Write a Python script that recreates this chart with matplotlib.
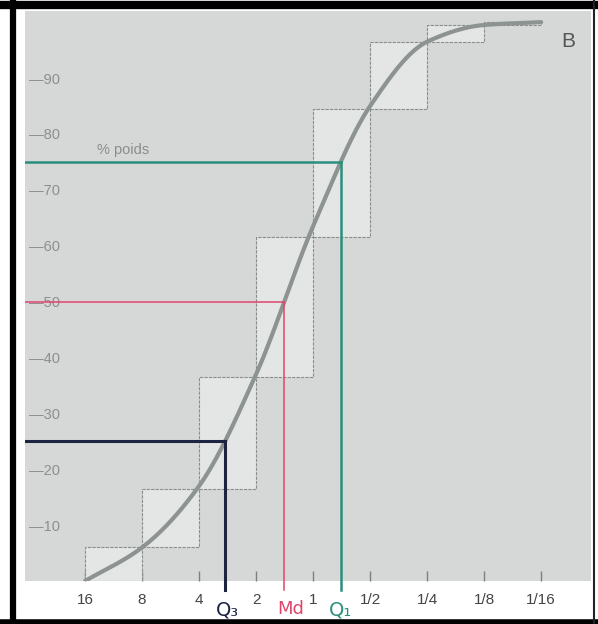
import numpy as np
import matplotlib
matplotlib.use("Agg")
import matplotlib.pyplot as plt
from matplotlib.lines import Line2D
import matplotlib.transforms as mtransforms

plt.rcParams['font.family'] = ['Liberation Sans', 'DejaVu Sans']

# sieve sizes (mm) and cumulative weight percent (tops of the boxes)
sizes = [16, 8, 4, 2, 1, 0.5, 0.25, 0.125, 0.0625]
size_labels = ['16', '8', '4', '2', '1', '1/2', '1/4', '1/8', '1/16']
cum_pct = [0, 6, 16.5, 36.5, 61.5, 84.5, 96.5, 99.5, 100]
# the hand drawn curve, read at each sieve size
curve_pct = [0, 6, 17, 37, 63.5, 85, 96.5, 99.5, 100]

# quartile construction
q_names = ['Q₃', 'Md', 'Q₁']
q_pct = [25, 50, 75]
q_colors = ['#1d2440', '#e0456c', '#2a8f7c']
q_widths = [2.2, 1.1, 1.8]
q_label_dx = [2, 6, 0]

y_ticks = [10, 20, 30, 40, 50, 60, 70, 80, 90]

bg = '#d5d8d6'
box_fill = '#e4e6e5'
box_edge = '#8a8e8c'
curve_col = '#8d9391'


def monotone_curve(xk, yk, xs):
	# Fritsch-Carlson monotone cubic, used only to draw the smooth curve
	xk = np.asarray(xk, float)
	yk = np.asarray(yk, float)
	h = np.diff(xk)
	d = np.diff(yk) / h
	n = len(xk)
	m = np.zeros(n)
	m[0] = d[0]
	m[-1] = d[-1]
	for k in range(1, n - 1):
		if d[k-1] * d[k] <= 0:
			m[k] = 0
		else:
			w1 = 2 * h[k] + h[k-1]
			w2 = h[k] + 2 * h[k-1]
			m[k] = (w1 + w2) / (w1 / d[k-1] + w2 / d[k])
	idx = np.clip(np.searchsorted(xk, xs) - 1, 0, n - 2)
	t = (xs - xk[idx]) / h[idx]
	h00 = 2*t**3 - 3*t**2 + 1
	h10 = t**3 - 2*t**2 + t
	h01 = -2*t**3 + 3*t**2
	h11 = t**3 - t**2
	return h00*yk[idx] + h10*h[idx]*m[idx] + h01*yk[idx+1] + h11*h[idx]*m[idx+1]


fig = plt.figure(figsize=(5.98, 6.24), dpi=100, facecolor='white')
ax = fig.add_axes([25/598, 1 - 581/624, 566/598, 570/624])
ax.set_facecolor(bg)
ax.set_xscale('log', base=2)
ax.set_xlim(33.2, 0.0341)
ax.set_ylim(0, 102)

# cumulative histogram boxes
s = np.array(sizes)
c = np.array(cum_pct)
ax.bar(s[:-1], np.diff(c), width=s[1:] - s[:-1], bottom=c[:-1], align='edge',
	color=box_fill, edgecolor=box_edge, linewidth=0.8, linestyle=(0, (3, 1)), zorder=2)

# smooth cumulative curve (phi units along x)
p_knots = np.log2(16 / s)
pp = np.linspace(0, 8, 600)
yy = monotone_curve(p_knots, curve_pct, pp)
ax.plot(16 / 2**pp, yy, color=curve_col, linewidth=3.0, solid_capstyle='round', zorder=4)

# quartile construction lines, read where the curve crosses 25/50/75 %
blend = mtransforms.blended_transform_factory(ax.transData, ax.transAxes)
for name, pct, col, lw, dx in zip(q_names, q_pct, q_colors, q_widths, q_label_dx):
	qs = 16 / 2**np.interp(pct, yy, pp)
	ax.plot([33.2, qs], [pct, pct], color=col, linewidth=lw, zorder=5)
	ax.plot([qs, qs], [pct, -1.6], color=col, linewidth=lw, zorder=5, clip_on=False)
	off = mtransforms.offset_copy(blend, fig=fig, x=dx, y=0, units='dots')
	ax.text(qs, -0.05, name, transform=off, color=col,
		fontsize=13 if name == 'Md' else 14, ha='center', va='center',
		fontfamily='DejaVu Sans')

ax.set_xticks(sizes)
ax.set_xticklabels(size_labels)
ax.xaxis.set_minor_locator(plt.NullLocator())
ax.tick_params(axis='x', direction='in', length=7, width=1, color='#7d807e',
	pad=9, labelsize=11, labelcolor='#444444')

ax.set_yticks(y_ticks)
ax.set_yticklabels(['—' + str(v) for v in y_ticks])
ax.tick_params(axis='y', length=0, pad=-3, labelsize=10.5, labelcolor='#8c8f8d')
for lab in ax.get_yticklabels():
	lab.set_horizontalalignment('left')

for sp in ax.spines.values():
	sp.set_visible(False)

ax.text(0.127, 0.756, '% poids', transform=ax.transAxes, color='#8a8d8b',
	fontsize=10.5, ha='left', va='center')
ax.text(0.959, 0.946, 'B', transform=ax.transAxes, color='#555555',
	fontsize=15, ha='center', va='center')

# black frame of the photographed page
fig.add_artist(Line2D([13/598, 13/598], [0, 1], color='black', linewidth=4.5, transform=fig.transFigure))
fig.add_artist(Line2D([0, 1], [1 - 5/624, 1 - 5/624], color='black', linewidth=6, transform=fig.transFigure))
fig.add_artist(Line2D([0, 1], [1 - 622/624, 1 - 622/624], color='black', linewidth=4, transform=fig.transFigure))
fig.add_artist(Line2D([594/598, 594/598], [0, 1], color='#222222', linewidth=1.5, transform=fig.transFigure))

fig.savefig('out.png', dpi=100, facecolor='white')
